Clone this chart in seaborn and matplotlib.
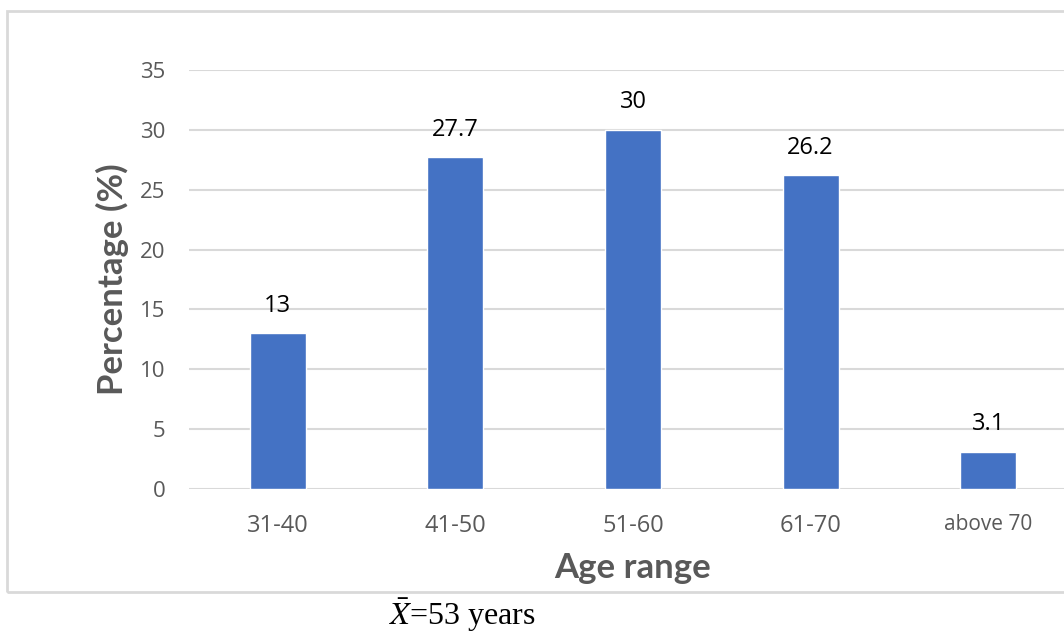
import numpy as np
import pandas as pd
import matplotlib
matplotlib.use("Agg")
import matplotlib.pyplot as plt
from matplotlib.patches import Rectangle
import seaborn as sns

# Data
age_ranges = ["31-40", "41-50", "51-60", "61-70", "above 70"]
percentages = [13, 27.7, 30, 26.2, 3.1]
value_labels = ["13", "27.7", "30", "26.2", "3.1"]
y_ticks = [0, 5, 10, 15, 20, 25, 30, 35]

BAR_COLOR = "#4472C4"
GRID_COLOR = "#d9d9d9"
TEXT_GRAY = "#595959"

sns.set_theme(style="white")
plt.rcParams["font.family"] = ["Open Sans", "DejaVu Sans"]
plt.rcParams["mathtext.fontset"] = "stix"

df = pd.DataFrame({"Age range": age_ranges, "Percentage": percentages})

fig = plt.figure(figsize=(10.64, 6.32), dpi=100)
ax = fig.add_axes([189 / 1064, 143 / 632, 888 / 1064, 419 / 632])

sns.barplot(data=df, x="Age range", y="Percentage", color=BAR_COLOR,
            width=0.315, saturation=1, ax=ax, zorder=3)

ax.set_xlim(-0.5, len(age_ranges) - 0.5)
ax.set_ylim(0, 35)
ax.set_yticks(y_ticks)
ax.yaxis.grid(True, color=GRID_COLOR, linewidth=1.5, zorder=0)
ax.set_axisbelow(True)
for s in ax.spines.values():
    s.set_visible(False)
ax.tick_params(axis="both", length=0, colors=TEXT_GRAY)
ax.tick_params(axis="y", pad=17, labelsize=16)
ax.tick_params(axis="x", pad=18, labelsize=17)
for lbl in ax.get_xticklabels():
    if lbl.get_text() == "above 70":
        lbl.set_fontsize(15)

# value labels above bars
for i, (v, t) in enumerate(zip(percentages, value_labels)):
    ax.annotate(t, (i, v), xytext=(0, 20), textcoords="offset points",
                ha="center", va="center", fontsize=17, color="black")

ax.set_xlabel("Age range", fontsize=25, fontweight="bold", color=TEXT_GRAY,
              family=["Lato", "DejaVu Sans"], labelpad=10)
ax.set_ylabel("Percentage (%)", fontsize=25, fontweight="bold", color=TEXT_GRAY,
              family=["Lato", "DejaVu Sans"], labelpad=8)

# chart frame (cropped on the right, as in the source)
fig.patches.append(Rectangle((7 / 1064, (632 - 592) / 632), 1.2, (592 - 11) / 632,
                             transform=fig.transFigure, fill=False,
                             edgecolor=GRID_COLOR, linewidth=2, clip_on=False))

fig.text(462 / 1064, 1 - 615 / 632, r"$\bar{X}$=53 years", ha="center", va="center",
         fontsize=23, family=["Liberation Serif", "DejaVu Serif"], color="black")

fig.savefig("out.png", dpi=100)
